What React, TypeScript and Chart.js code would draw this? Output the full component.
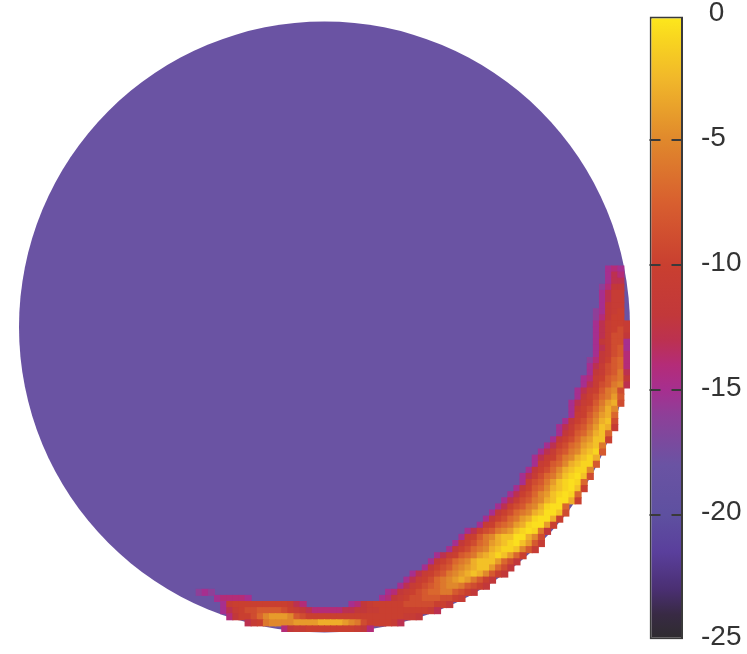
import React, { useEffect, useRef } from "react";
import { Chart, registerables } from "chart.js";

Chart.register(...registerables);

// colour scale (value -> colour)
const paletteValues = [-25, -24, -23, -21.5, -20, -18, -16, -15, -14, -13, -12, -10, -7.5, -5, -2.5, -1, 0];
const paletteColors = ["#2e2c2e", "#382a44", "#4a2f72", "#5a3f9c", "#5e50a0", "#6a53a3", "#8e3f98", "#a62f8f", "#b42c78", "#bc3150", "#c2383a", "#c93f30", "#d85f2f", "#e0882c", "#f1b82a", "#f8d420", "#fde91c"];
const colorbarTicks = [0, -5, -10, -15, -20, -25];

// the disc of the map, in grid cells, and its background value
const gridSize = 100;
const discCentre = { x: 50, y: 50 };
const discRadius = 50;
const discValue = -18;

// [grid row, first grid column, values along the row]
const rightBandRows: [number, number, number[]][] = [
  [40, 96, [-15, -14, -15]],
  [41, 96, [-15, -13, -14]],
  [42, 96, [-15, -13, -13]],
  [43, 95, [-16, -14, -12, -12]],
  [44, 95, [-15, -13, -11, -11]],
  [45, 95, [-15, -13, -11, -11]],
  [46, 95, [-15, -12, -11, -11]],
  [47, 94, [-16, -15, -12, -11, -10]],
  [48, 94, [-16, -14, -12, -10, -10]],
  [49, 94, [-15, -13, -11, -10, -10, -11]],
  [50, 94, [-15, -13, -11, -10, -9, -11]],
  [51, 94, [-15, -13, -11, -9, -9, -12]],
  [52, 94, [-15, -12, -11, -9, -9, -15]],
  [53, 94, [-15, -13, -11, -9, -8, -15]],
  [54, 94, [-15, -12, -11, -9, -8, -14]],
  [55, 93, [-16, -14, -12, -10, -8, -7, -14]],
  [56, 93, [-15, -13, -11, -9, -8, -7, -14]],
  [57, 93, [-15, -12, -11, -9, -8, -6, -13]],
  [58, 92, [-15, -14, -11, -10, -8, -7, -6, -12]],
  [59, 92, [-15, -13, -11, -9, -8, -6, -5, -13]],
  [60, 91, [-15, -13, -11, -10, -8, -6, -5, -9]],
  [61, 91, [-15, -12, -10, -9, -7, -6, -4, -8]],
  [62, 90, [-15, -13, -11, -10, -8, -6, -4, -3, -9]],
  [63, 90, [-15, -12, -10, -9, -7, -5, -3, -5]],
  [64, 90, [-15, -11, -10, -8, -6, -4, -3, -7]],
  [65, 89, [-15, -12, -10, -9, -7, -5, -3, -2, -9]],
  [66, 88, [-15, -13, -11, -9, -8, -6, -4, -2, -3, -11]],
  [67, 88, [-15, -12, -10, -8, -7, -5, -3, -2, -7]],
  [68, 87, [-15, -12, -10, -9, -7, -5, -4, -2, -2, -10]],
  [69, 86, [-15, -13, -10, -9, -7, -6, -4, -3, -2, -6]],
  [70, 85, [-15, -13, -11, -9, -8, -6, -5, -3, -2, -1, -8]],
  [71, 84, [-15, -13, -11, -10, -8, -6, -5, -3, -2, -1, -3]],
  [72, 84, [-15, -11, -10, -8, -7, -5, -3, -2, -1, -1, -8]],
  [73, 83, [-15, -12, -10, -9, -7, -5, -3, -2, -1, -1, -5]],
  [74, 82, [-15, -13, -11, -9, -7, -6, -4, -2, -1, -0.5, -2, -9]],
  [75, 82, [-15, -11, -9, -8, -6, -4, -2, -1, -0.5, -1, -7]],
  [76, 81, [-15, -12, -10, -8, -7, -5, -3, -2, -1, -0.5, -2, -10]],
  [77, 80, [-15, -13, -10, -9, -7, -5, -4, -2, -1, -0.5, -1, -7]],
  [78, 79, [-15, -13, -11, -9, -8, -6, -5, -3, -2, -0.5, -0.5, -3, -10]],
  [79, 78, [-15, -13, -10, -9, -8, -6, -5, -3, -1, -0.5, -0.5, -7]],
  [80, 77, [-15, -12, -10, -9, -7, -6, -5, -3, -2, -0.5, -0.5, -2, -9]],
  [81, 76, [-15, -12, -10, -9, -7, -6, -4, -3, -1, -0.5, -0.5, -3, -10]],
  [82, 75, [-15, -11, -10, -8, -7, -6, -4, -3, -1, -0.5, -0.5, -4, -10]],
  [83, 73, [-15, -13, -10, -9, -8, -6, -5, -4, -2, -1, -0.5, -1, -6, -12]],
  [84, 72, [-15, -11, -10, -8, -6, -5, -3, -2, -2, -0.5, -0.5, -3, -5, -9]],
];

const bottomBandRows: [number, number, number[]][] = [
  [85, 71, [-15, -12, -10, -9, -7, -6, -4, -3, -2, -1, -0.5, -2, -4, -8, -11]],
  [86, 70, [-15, -12, -10, -9, -7, -6, -5, -3, -2, -1, -1, -2, -5, -8, -11]],
  [87, 68, [-15, -13, -11, -10, -8, -7, -6, -4, -3, -2, -1, -2, -4, -7, -10]],
  [88, 67, [-15, -12, -10, -9, -7, -6, -5, -3, -2, -2, -2, -4, -7, -9, -12]],
  [89, 66, [-15, -12, -10, -9, -8, -6, -5, -4, -3, -2, -2, -4, -7, -9, -12]],
  [90, 64, [-15, -13, -11, -10, -9, -8, -6, -5, -4, -3, -2, -3, -5, -8, -10, -12]],
  [91, 63, [-15, -13, -11, -10, -9, -7, -6, -5, -4, -3, -4, -6, -8, -10, -12]],
  [92, 62, [-15, -13, -11, -10, -9, -8, -7, -6, -5, -5, -6, -8, -9, -10, -12]],
  [93, 60, [-15, -14, -12, -11, -10, -9, -8, -7, -7, -6, -6, -8, -9, -10, -12]],
  [93, 29, [-16, -15, -16]],
  [94, 59, [-15, -14, -12, -11, -10, -9, -9, -8, -8, -8, -9, -9, -10, -11]],
  [94, 32, [-15, -14, -14, -14, -14, -15]],
  [95, 33, [-15, -11, -10, -10, -10, -10, -10, -10, -10, -10, -10, -11, -13, -14]],
  [95, 54, [-15, -14, -12, -11, -10, -10, -10, -10, -10, -9, -9, -9, -9, -9, -10, -10, -12]],
  [96, 33, [-15, -13, -11, -10, -9, -9, -8, -8, -8, -8, -9, -10, -11, -12, -13, -14, -14, -14, -14, -14, -13, -13, -12, -12, -11, -11, -10, -10, -10, -10, -10, -10, -10, -10, -11, -13]],
  [97, 34, [-14, -12, -10, -10, -9, -7, -5, -4, -4, -4, -5, -8, -9, -10, -10, -10, -10, -10, -10, -10, -10, -10, -10, -10, -10, -10, -10, -10, -10, -11, -11, -12]],
  [98, 37, [-13, -11, -10, -6, -5, -5, -5, -5, -4, -4, -4, -4, -3, -3, -3, -3, -4, -5, -6, -9, -10, -10, -10, -10, -11, -13]],
  [99, 43, [-14, -12, -11, -11, -10, -10, -10, -10, -10, -10, -10, -10, -11, -12, -14]],
];

function hexToRgb(h: string) {
  return [1, 3, 5].map((i) => parseInt(h.slice(i, i + 2), 16));
}

function colorFor(v: number) {
  let i = 0;
  while (i < paletteValues.length - 2 && v > paletteValues[i + 1]) i++;
  const t = Math.min(1, Math.max(0, (v - paletteValues[i]) / (paletteValues[i + 1] - paletteValues[i])));
  const a = hexToRgb(paletteColors[i]);
  const b = hexToRgb(paletteColors[i + 1]);
  return `rgb(${a.map((c, k) => Math.round(c + (b[k] - c) * t)).join(",")})`;
}

const heatCells = [...rightBandRows, ...bottomBandRows].flatMap(([row, start, values]) =>
  values.map((v, k) => ({ x: start + k + 0.5, y: [row, row + 1], v }))
);

export default function App() {
  const mapRef = useRef<HTMLCanvasElement | null>(null);
  const barRef = useRef<HTMLCanvasElement | null>(null);

  useEffect(() => {
    const map = new Chart(mapRef.current!, {
      type: "bar",
      data: {
        datasets: [
          {
            type: "scatter",
            data: [discCentre],
            order: 2,
            clip: false,
            showLine: false,
            backgroundColor: colorFor(discValue),
            borderWidth: 0,
            pointBorderWidth: 0,
            pointRadius: (ctx: any) => {
              const s = ctx.chart.scales.x;
              return s.getPixelForValue(discRadius) - s.getPixelForValue(0);
            },
          },
          {
            type: "bar",
            data: heatCells as any,
            order: 1,
            barThickness: 6.11,
            borderWidth: 0,
            inflateAmount: 0.5,
            backgroundColor: (ctx: any) => colorFor(ctx.raw ? ctx.raw.v : discValue),
          },
        ] as any,
      },
      options: {
        animation: false,
        responsive: false,
        events: [],
        layout: { padding: { left: 19, right: 117, top: 22, bottom: 22 } },
        plugins: { legend: { display: false }, tooltip: { enabled: false } },
        scales: {
          x: { type: "linear", min: 0, max: gridSize, display: false, offset: false },
          y: { type: "linear", min: 0, max: gridSize, reverse: true, display: false },
        },
      } as any,
    });

    const bar = new Chart(barRef.current!, {
      type: "bar",
      data: {
        labels: [""],
        datasets: [
          {
            data: [[-25, 0]],
            barPercentage: 1,
            categoryPercentage: 1,
            borderWidth: 2,
            borderColor: "#3a3a3a",
            borderSkipped: false,
            inflateAmount: 0,
            backgroundColor: (ctx: any) => {
              const chart = ctx.chart;
              const s = chart.scales.y;
              const y0 = s ? s.getPixelForValue(-25) : NaN;
              const y1 = s ? s.getPixelForValue(0) : NaN;
              if (!Number.isFinite(y0) || !Number.isFinite(y1)) return "#888888";
              const g = chart.ctx.createLinearGradient(0, y0, 0, y1);
              paletteValues.forEach((v, i) => g.addColorStop((v + 25) / 25, paletteColors[i]));
              return g;
            },
          },
        ] as any,
      },
      options: {
        animation: false,
        responsive: false,
        events: [],
        layout: { padding: { left: 9.5, right: 0, top: 15.5, bottom: 14.5 } },
        plugins: { legend: { display: false }, tooltip: { enabled: false } },
        scales: {
          x: { display: false },
          y: {
            position: "right",
            min: -25,
            max: 0,
            afterBuildTicks: (s: any) => {
              s.ticks = colorbarTicks.map((value) => ({ value }));
            },
            afterFit: (s: any) => {
              s.width = 64;
              s.paddingTop = 0;
              s.paddingBottom = 0;
            },
            border: { display: false, dash: [11, 11] },
            grid: {
              color: (ctx: any) => (ctx.tick && (ctx.tick.value === 0 || ctx.tick.value === -25) ? "rgba(0,0,0,0)" : "#3a3a3a"),
              lineWidth: 2,
              drawTicks: false,
              z: 1,
            },
            ticks: {
              padding: 18,
              labelOffset: -2,
              autoSkip: false,
              color: "#333333",
              font: { family: "'Liberation Sans'", size: 28 },
              callback: (v: any) => (v === 0 ? " 0" : String(v)),
            },
          },
        },
      } as any,
    });

    return () => {
      map.destroy();
      bar.destroy();
    };
  }, []);

  return (
    <>
      <canvas ref={mapRef} width={747} height={654} style={{ position: "fixed", left: 0, top: 0, display: "block" }} />
      <canvas ref={barRef} width={107} height={654} style={{ position: "fixed", left: 640, top: 0, display: "block" }} />
    </>
  );
}
